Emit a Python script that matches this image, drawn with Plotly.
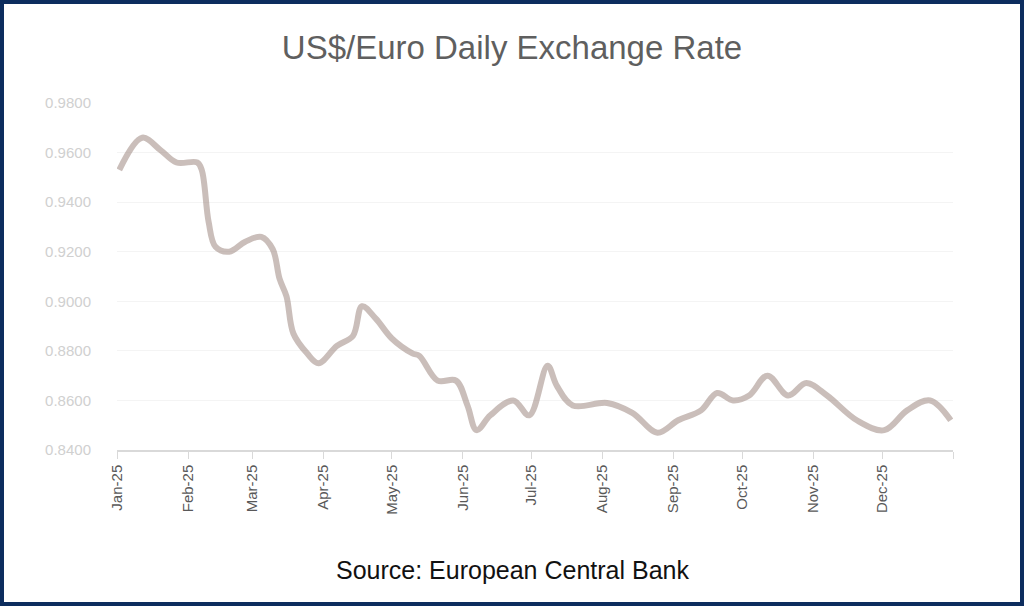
import plotly.graph_objects as go

# anchor readings of the daily rate (euros per US$), 2025
dates = ["2025-01-02", "2025-01-12", "2025-01-20", "2025-01-27", "2025-02-05",
         "2025-02-07", "2025-02-10", "2025-02-13", "2025-02-19", "2025-02-26",
         "2025-03-05", "2025-03-10", "2025-03-13", "2025-03-16", "2025-03-19",
         "2025-03-25", "2025-03-30", "2025-04-07", "2025-04-14", "2025-04-18",
         "2025-04-24", "2025-05-01", "2025-05-10", "2025-05-13", "2025-05-21",
         "2025-05-29", "2025-06-03", "2025-06-07", "2025-06-13", "2025-06-23",
         "2025-06-30", "2025-07-08", "2025-07-12", "2025-07-19", "2025-08-03",
         "2025-08-14", "2025-08-25", "2025-09-03", "2025-09-13", "2025-09-20",
         "2025-09-27", "2025-10-04", "2025-10-12", "2025-10-21", "2025-10-29",
         "2025-11-07", "2025-11-20", "2025-12-02", "2025-12-12", "2025-12-22",
         "2025-12-31"]
rates = [0.953, 0.966, 0.961, 0.956, 0.956,
         0.953, 0.932, 0.922, 0.920, 0.924,
         0.926, 0.921, 0.909, 0.902, 0.887,
         0.879, 0.875, 0.882, 0.886, 0.898,
         0.893, 0.885, 0.879, 0.878, 0.868,
         0.868, 0.858, 0.848, 0.854, 0.860,
         0.854, 0.874, 0.866, 0.858, 0.859,
         0.855, 0.847, 0.852, 0.856, 0.863,
         0.860, 0.862, 0.870, 0.862, 0.867,
         0.862, 0.852, 0.848, 0.856, 0.860,
         0.852]

month_ticks = ["2025-%02d-01" % m for m in range(1, 13)] + ["2026-01-01"]
month_labels = ["Jan-25", "Feb-25", "Mar-25", "Apr-25", "May-25", "Jun-25",
                "Jul-25", "Aug-25", "Sep-25", "Oct-25", "Nov-25", "Dec-25", ""]

fig = go.Figure()
fig.add_trace(go.Scatter(x=dates, y=rates, mode="lines",
                         line=dict(color="rgba(150,125,118,0.5)", width=6, shape="spline"),
                         hoverinfo="skip", showlegend=False))

L, R, T, B = 117, 71, 103, 156
pw, ph = 1024 - L - R, 606 - T - B

fig.update_layout(
    width=1024, height=606,
    margin=dict(l=L, r=R, t=T, b=B),
    paper_bgcolor="white", plot_bgcolor="white",
    title=dict(text="US$/Euro Daily Exchange Rate", x=0.5, xanchor="center",
               y=1 - 47 / 606, yanchor="middle",
               font=dict(family="Liberation Sans, Arial, sans-serif", size=33, color="#5f5f5f")),
    xaxis=dict(type="date", range=["2025-01-01", "2026-01-01"],
               tickvals=month_ticks, ticktext=month_labels, tickangle=-90,
               ticks="outside", ticklen=7, tickcolor="#d9d9d9",
               showline=True, linecolor="#d9d9d9", linewidth=1.5,
               showgrid=False, zeroline=False,
               tickfont=dict(family="Liberation Sans, Arial, sans-serif", size=15, color="#595959")),
    yaxis=dict(range=[0.84, 0.98], dtick=0.02, tick0=0.84, tickformat=".4f",
               showgrid=True, gridcolor="#f4f4f4", gridwidth=1, zeroline=False,
               showline=False, ticks="", ticklabelstandoff=25,
               tickfont=dict(family="Liberation Sans, Arial, sans-serif", size=15, color="#d0d0d0")),
    annotations=[dict(text="Source: European Central Bank", xref="paper", yref="paper",
                      x=(512 - L) / pw, y=-(570 - T - ph) / ph, xanchor="center", yanchor="middle",
                      showarrow=False,
                      font=dict(family="Liberation Sans, Arial, sans-serif", size=25, color="#111111"))],
    shapes=[dict(type="rect", xref="paper", yref="paper",
                 x0=-(L - 2) / pw, x1=1 + (R - 2) / pw,
                 y0=-(B - 2) / ph, y1=1 + (T - 2) / ph,
                 line=dict(color="#0d2d5e", width=4))],
)

fig.write_html("out.html", config={"displayModeBar": False},
               post_script="document.body.style.margin='0';")
